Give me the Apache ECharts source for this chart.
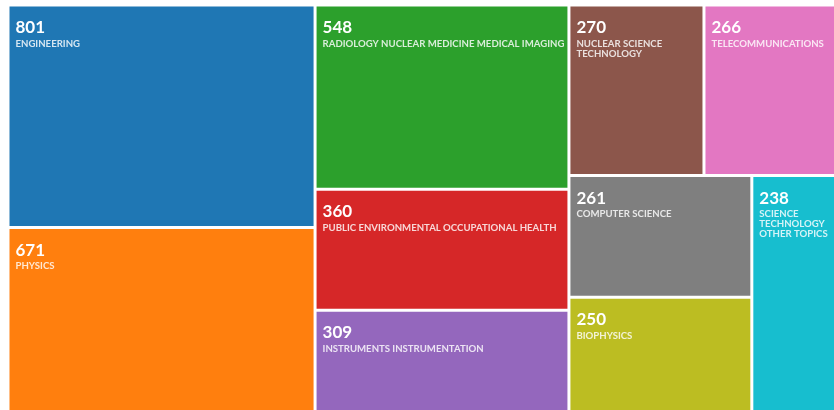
<!DOCTYPE html>
<html>
<head>
<meta charset="utf-8">
<script src="https://cdn.jsdelivr.net/npm/echarts@6/dist/echarts.min.js"></script>
<style>
  html, body { margin: 0; padding: 0; background: #fff; }
  #chart { width: 834px; height: 410px; }
</style>
</head>
<body>
<div id="chart"></div>
<script>
// research areas and record counts
var categories = [
    'ENGINEERING',
    'PHYSICS',
    'RADIOLOGY NUCLEAR MEDICINE MEDICAL IMAGING',
    'PUBLIC ENVIRONMENTAL OCCUPATIONAL HEALTH',
    'INSTRUMENTS INSTRUMENTATION',
    'NUCLEAR SCIENCE TECHNOLOGY',
    'TELECOMMUNICATIONS',
    'COMPUTER SCIENCE',
    'BIOPHYSICS',
    'SCIENCE TECHNOLOGY OTHER TOPICS'
];
var counts = [801, 671, 548, 360, 309, 270, 266, 261, 250, 238];

// colours, one per box
var palette = ['#1f77b4', '#ff7f0e', '#2ca02c', '#d62728', '#9467bd',
               '#8c564b', '#e377c2', '#7f7f7f', '#bcbd22', '#17becf'];

var treeData = categories.map(function (name, i) {
    return { name: name, value: counts[i], itemStyle: { color: palette[i] } };
});

var myChart = echarts.init(document.getElementById('chart'));

myChart.setOption({
    animation: false,
    series: [{
        type: 'treemap',
        left: 9.5,
        top: 6.5,
        width: 826,
        height: 406,
        roam: false,
        nodeClick: false,
        breadcrumb: { show: false },
        itemStyle: { gapWidth: 3, borderWidth: 0, borderColor: '#fff' },
        label: {
            show: true,
            position: 'insideTopLeft',
            padding: [10, 0, 0, 6],
            overflow: 'break',
            fontFamily: 'Lato',
            // newline sits inside the second token, otherwise the wrap code drops it
            formatter: function (p) {
                return '{v|' + p.value + '}{n|\n' + p.name + '}';
            },
            rich: {
                v: { fontFamily: 'Lato', fontSize: 17, fontWeight: 'bold', color: '#fff', lineHeight: 22 },
                n: { fontFamily: 'Lato', fontSize: 9.6, fontWeight: 'bold', color: 'rgba(255,255,255,0.82)', lineHeight: 10 }
            }
        },
        emphasis: { disabled: true },
        data: treeData
    }]
});
</script>
</body>
</html>
